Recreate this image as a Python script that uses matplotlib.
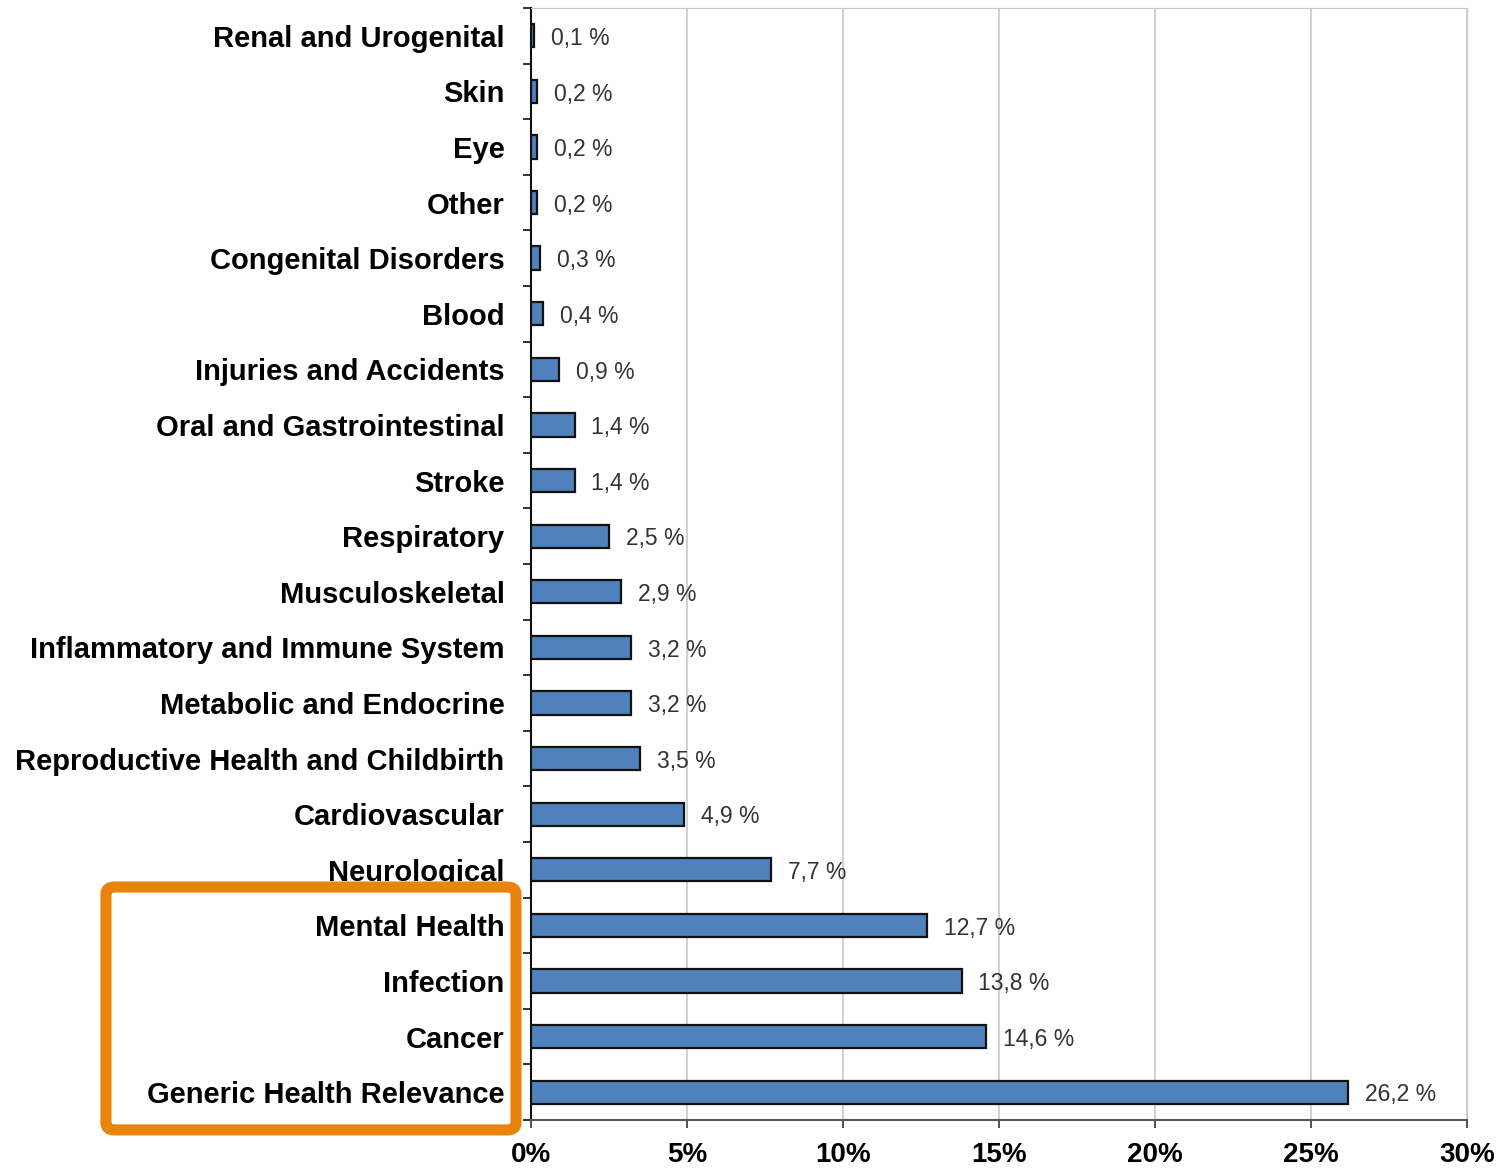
import matplotlib.pyplot as plt
from matplotlib.patches import FancyBboxPatch
import numpy as np

# categories from bottom to top
categories = ['Generic Health Relevance', 'Cancer', 'Infection', 'Mental Health',
              'Neurological', 'Cardiovascular', 'Reproductive Health and Childbirth',
              'Metabolic and Endocrine', 'Inflammatory and Immune System',
              'Musculoskeletal', 'Respiratory', 'Stroke', 'Oral and Gastrointestinal',
              'Injuries and Accidents', 'Blood', 'Congenital Disorders', 'Other',
              'Eye', 'Skin', 'Renal and Urogenital']
values = [26.2, 14.6, 13.8, 12.7, 7.7, 4.9, 3.5, 3.2, 3.2, 2.9, 2.5, 1.4, 1.4,
          0.9, 0.4, 0.3, 0.2, 0.2, 0.2, 0.1]
xticks = [0, 5, 10, 15, 20, 25, 30]

plt.rcParams['font.family'] = ['Liberation Sans', 'DejaVu Sans']

fig = plt.figure(figsize=(15.03, 11.69), dpi=100)
ax = fig.add_axes([0.3533, 0.0419, 0.9760 - 0.3533, 0.9932 - 0.0419])

y = np.arange(len(categories))
ax.barh(y, values, height=0.42, color='#4F81BD', edgecolor='#111111',
        linewidth=1.6, zorder=3)

for yi, v in zip(y, values):
    ax.annotate(f"{v:.1f} %".replace('.', ','), (v, yi), xytext=(12, -2),
                textcoords='offset points', va='center', ha='left',
                fontsize=16.5, color='#333333')

ax.set_xlim(0, 30)
ax.set_ylim(-0.5, len(categories) - 0.5)
ax.set_xticks(xticks)
ax.set_xticklabels([f"{t}%" for t in xticks], fontsize=20, fontweight='bold')
ax.set_yticks(y)
ax.set_yticklabels(categories, fontsize=21, fontweight='bold')
ax.set_yticks(np.arange(len(categories) + 1) - 0.5, minor=True)
ax.tick_params(axis='y', which='major', length=0, pad=19)
ax.tick_params(axis='y', which='minor', length=6, width=1.2, color='#111111')
ax.tick_params(axis='x', length=6, width=1.2, color='#333333', pad=10)

ax.grid(axis='x', color='#c8c8c8', linewidth=1.2, zorder=0)
ax.spines['left'].set_color('#111111')
ax.spines['left'].set_linewidth(1.5)
ax.spines['bottom'].set_color('#555555')
ax.spines['bottom'].set_linewidth(1.5)
ax.spines['top'].set_color('#c8c8c8')
ax.spines['right'].set_color('#c8c8c8')

box = FancyBboxPatch((0.0705, 0.0334), 0.3433 - 0.0705, 0.2412 - 0.0334,
                     boxstyle='round,pad=0,rounding_size=0.006',
                     transform=fig.transFigure, fill=False,
                     edgecolor='#E8830C', linewidth=8, zorder=10)
fig.patches.append(box)

fig.savefig('out.png', dpi=100)
